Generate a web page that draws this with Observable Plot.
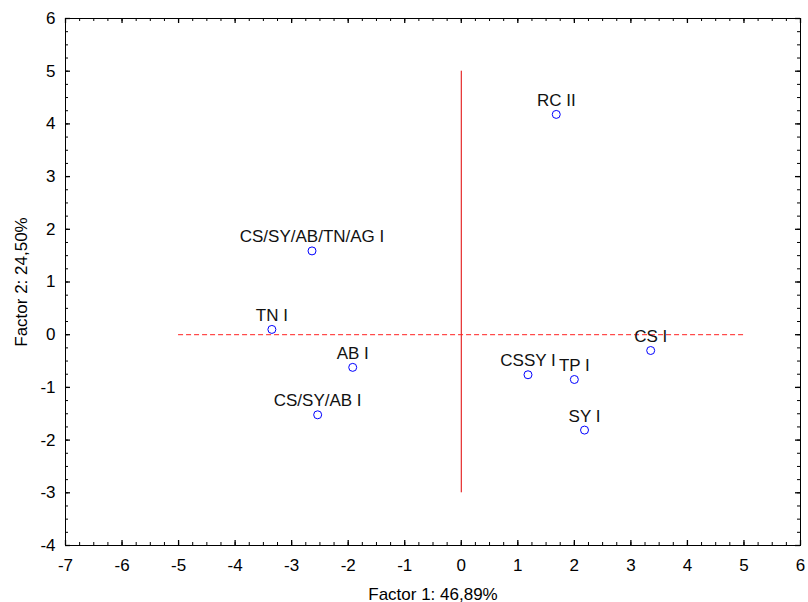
<!DOCTYPE html>
<html>
<head>
<meta charset="utf-8">
<script src="https://cdn.jsdelivr.net/npm/d3@7"></script>
<script src="https://cdn.jsdelivr.net/npm/@observablehq/plot@0.6"></script>
<style>
  html, body { margin: 0; padding: 0; background: #fff; }
  svg { display: block; }
</style>
</head>
<body>
<div id="chart"></div>
<script>
const labels = ["RC II", "CS/SY/AB/TN/AG I", "TN I", "AB I", "CS/SY/AB I", "CSSY I", "TP I", "SY I", "CS I"];
const factor1 = [1.68, -2.64, -3.35, -1.92, -2.54, 1.18, 2.00, 2.18, 3.35];
const factor2 = [4.18, 1.59, 0.10, -0.62, -1.52, -0.76, -0.85, -1.81, -0.30];

const xTicks = [-7, -6, -5, -4, -3, -2, -1, 0, 1, 2, 3, 4, 5, 6];
const yTicks = [-4, -3, -2, -1, 0, 1, 2, 3, 4, 5, 6];
const xMinor = d3.range(-7, 6.001, 0.25);
const yMinor = d3.range(-4, 6.001, 0.25);

const vLine = [{x: 0, y1: -3, y2: 5}];
const hLine = [{y: 0, x1: -5, x2: 5}];

const points = labels.map((l, i) => ({label: l, f1: factor1[i], f2: factor2[i]}));

const W = 808, H = 602;
const mL = 65, mR = 8, mT = 18, mB = 57;
const pw = W - mL - mR, ph = H - mT - mB;
const font = "Liberation Sans, Arial, sans-serif";
const fmt = d => String(d);

const chart = Plot.plot({
  width: W,
  height: H,
  marginLeft: mL,
  marginRight: mR,
  marginTop: mT,
  marginBottom: mB,
  style: {fontFamily: font, fontSize: "17px", color: "#000", background: "#fff"},
  x: {domain: [-7, 6]},
  y: {domain: [-4, 6]},
  marks: [
    Plot.axisX(xTicks, {tickSize: 0, tickPadding: 13, fontSize: 17, tickFormat: fmt, label: "Factor 1: 46,89%", labelAnchor: "center", labelOffset: 54, labelArrow: "none"}),
    Plot.axisY(yTicks, {tickSize: 0, tickPadding: 10, fontSize: 17, tickFormat: fmt, label: "Factor 2: 24,50%", labelAnchor: "center", labelOffset: 51, labelArrow: "none"}),
    // minor ticks (inward)
    Plot.ruleX(xMinor, {x: d => d, insetTop: ph - 3, stroke: "#000"}),
    Plot.ruleX(xMinor, {x: d => d, insetBottom: ph - 3, stroke: "#000"}),
    Plot.ruleY(yMinor, {y: d => d, insetRight: pw - 3, stroke: "#000"}),
    Plot.ruleY(yMinor, {y: d => d, insetLeft: pw - 3, stroke: "#000"}),
    // major ticks (inward)
    Plot.ruleX(xTicks, {x: d => d, insetTop: ph - 5, stroke: "#000", strokeWidth: 1.3}),
    Plot.ruleX(xTicks, {x: d => d, insetBottom: ph - 5, stroke: "#000", strokeWidth: 1.3}),
    Plot.ruleY(yTicks, {y: d => d, insetRight: pw - 5, stroke: "#000", strokeWidth: 1.3}),
    Plot.ruleY(yTicks, {y: d => d, insetLeft: pw - 5, stroke: "#000", strokeWidth: 1.3}),
    Plot.frame({stroke: "#000", strokeWidth: 1}),
    Plot.ruleX(vLine, {x: "x", y1: "y1", y2: "y2", stroke: "#e00000", strokeWidth: 1}),
    Plot.ruleY(hLine, {y: "y", x1: "x1", x2: "x2", stroke: "#ff2020", strokeWidth: 1, strokeDasharray: "5,3"}),
    Plot.dot(points, {x: "f1", y: "f2", r: 4, stroke: "#0000ff", strokeWidth: 1, fill: "none"}),
    Plot.text(points, {x: "f1", y: "f2", text: "label", dy: -14, fontSize: 17, fill: "#111", fontFamily: font})
  ]
});
document.getElementById("chart").appendChild(chart);
</script>
</body>
</html>
